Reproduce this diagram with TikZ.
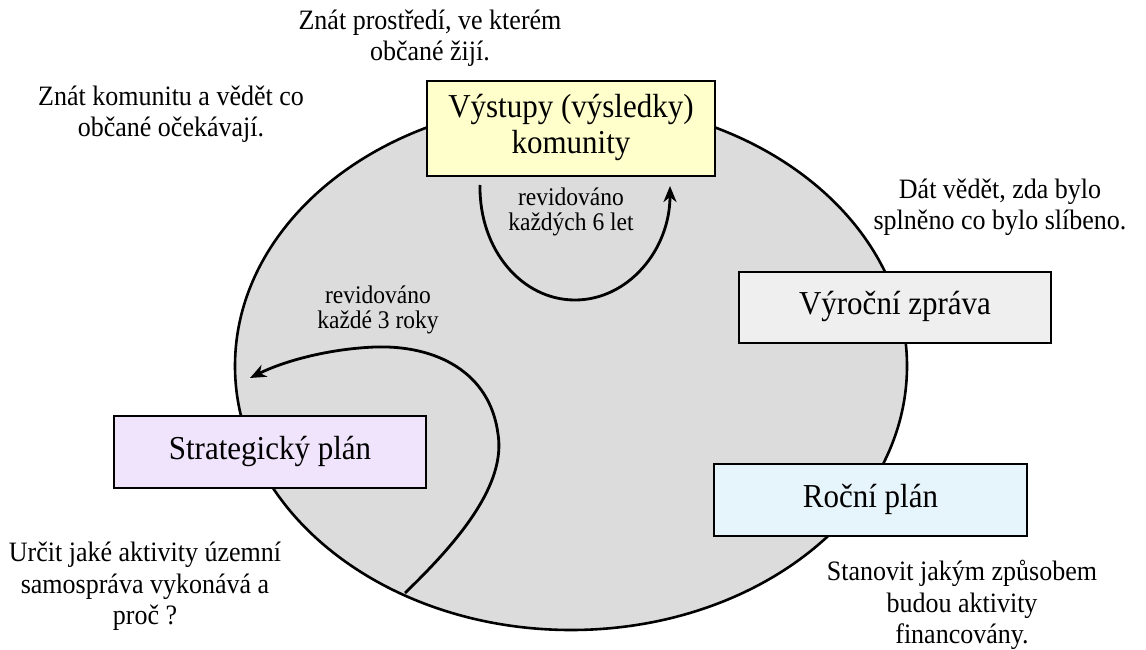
\documentclass[tikz,border=0pt]{standalone}
\usepackage{fontspec}
\usepackage{graphicx}
\setmainfont{Liberation Serif}
\usetikzlibrary{arrows.meta}
\definecolor{ellgray}{HTML}{DCDCDC}
\definecolor{boxyellow}{HTML}{FFFFCC}
\definecolor{boxgray}{HTML}{EFEFEF}
\definecolor{boxlav}{HTML}{F0E4FC}
\definecolor{boxblue}{HTML}{E6F4FC}
\newcommand\vtxt[1]{\scalebox{1}[1.08]{\begin{tabular}{@{}c@{}}#1\end{tabular}}}
\tikzset{
  box/.style={draw=black, line width=1.8pt, minimum height=72pt, inner sep=0pt, align=center, font=\fontsize{31}{32.5}\selectfont},
  note/.style={align=center, inner sep=0pt, font=\fontsize{26}{29}\selectfont},
  small/.style={align=center, inner sep=0pt, font=\fontsize{23.5}{23.5}\selectfont},
  cyc/.style={line width=2.8pt, -{Stealth[length=16pt,width=13pt,inset=5pt]}}
}
\begin{document}
\begin{tikzpicture}[x=1pt,y=-1pt]
\useasboundingbox (0,0) rectangle (1146,650);
\draw[fill=ellgray, line width=2.6pt] (571,366) ellipse [x radius=336, y radius=264];

\node[box, fill=boxyellow, minimum width=288pt, minimum height=95pt] (out) at (571,128.5) {\vtxt{Výstupy (výsledky)\\komunity}};
\node[box, fill=boxgray, minimum width=312pt, minimum height=71pt] (vz) at (895,307.5) {\vtxt{Výroční zpráva}};
\node[box, fill=boxlav, minimum width=312pt] (sp) at (270,452) {\vtxt{Strategický plán}};
\node[box, fill=boxblue, minimum width=313pt] (rp) at (870.5,500) {\vtxt{Roční plán}};

\node[note] (n1) at (430,39) {\vtxt{Znát prostředí, ve kterém\\občané žijí.}};
\node[note] (n2) at (171,115) {\vtxt{Znát komunitu a vědět co\\občané očekávají.}};
\node[note] (n3) at (1000,208) {\vtxt{Dát vědět, zda bylo\\splněno co bylo slíbeno.}};
\node[note] (n4) at (145,587) {\vtxt{Určit jaké aktivity územní\\samospráva vykonává a\\proč ?}};
\node[note] (n5) at (962,606) {\vtxt{Stanovit jakým způsobem\\budou aktivity\\financovány.}};

\node[small] (r6) at (571,213) {\vtxt{revidováno\\každých 6 let}};
\node[small] (r3) at (378,311) {\vtxt{revidováno\\každé 3 roky}};

\coordinate (a6s) at (480,185);
\coordinate (a6b) at (575,300);
\coordinate (a6e) at (670,186);
\draw[cyc] (a6s) .. controls (479,250) and (522,300) .. (a6b)
  .. controls (628,300) and (670,250) .. (a6e);

\coordinate (a3s) at (405,593);
\coordinate (a3r) at (498,434);
\coordinate (a3t) at (375,347);
\coordinate (a3e) at (250,378);
\draw[cyc] (a3s) .. controls (460,540) and (506,484) .. (a3r)
  .. controls (490,372) and (436,345) .. (a3t)
  .. controls (326,349) and (282,362) .. (a3e);
\end{tikzpicture}
\end{document}
